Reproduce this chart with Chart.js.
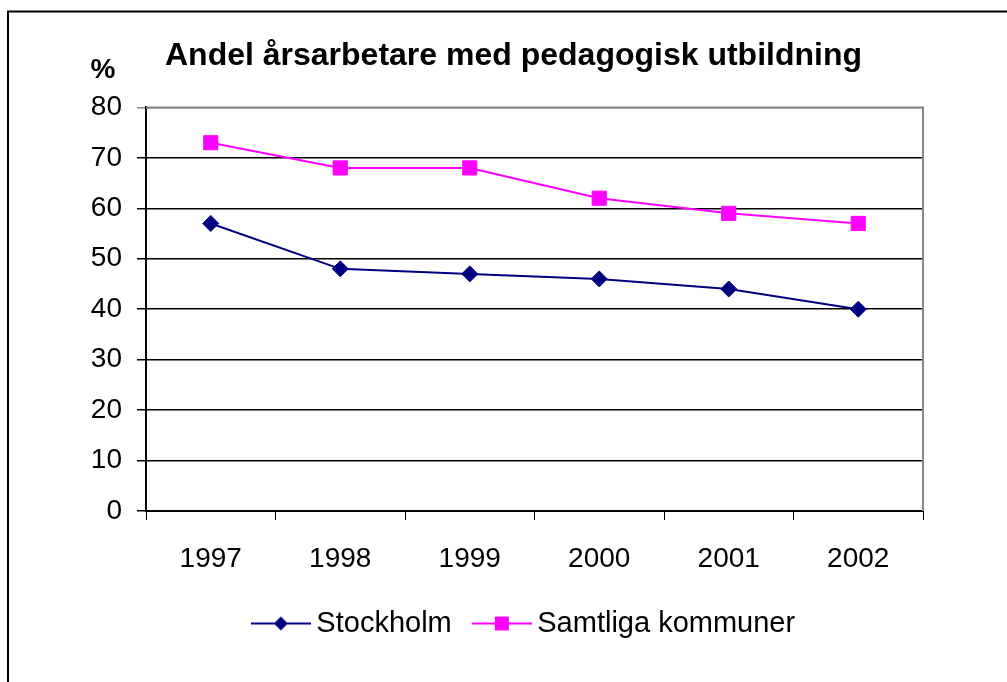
<!doctype html>
<html lang="sv">
<head>
<meta charset="utf-8">
<title>Andel årsarbetare med pedagogisk utbildning</title>
<style>
  body { margin: 0; background: #fff; }
  #wrap { width: 1007px; height: 682px; }
</style>
</head>
<body>
<div id="wrap"><canvas id="myChart" width="1007" height="682"></canvas></div>
<script src="https://cdn.jsdelivr.net/npm/chart.js@4"></script>
<script>
var years = ['1997', '1998', '1999', '2000', '2001', '2002'];
var stockholm = [57, 48, 47, 46, 44, 40];
var samtliga = [73, 68, 68, 62, 59, 57];
var yTicks = [0, 10, 20, 30, 40, 50, 60, 70, 80];

var FONT = '"Liberation Sans", Arial, sans-serif';
var NAVY = '#000080';
var PINK = '#FF00FF';

// legend swatch: line with marker in the middle
function swatch(color, shape) {
    var c = document.createElement('canvas');
    c.width = 60; c.height = 20;
    var g = c.getContext('2d');
    g.strokeStyle = color; g.lineWidth = 2;
    g.beginPath(); g.moveTo(0, 10); g.lineTo(60, 10); g.stroke();
    g.fillStyle = color;
    g.beginPath();
    if (shape === 'diamond') {
        g.moveTo(30, 3); g.lineTo(37, 10); g.lineTo(30, 17); g.lineTo(23, 10);
    } else {
        g.rect(23, 3, 14, 14);
    }
    g.closePath(); g.fill();
    return c;
}
var legendStyles = [swatch(NAVY, 'diamond'), swatch(PINK, 'square')];

var frame = {
    id: 'frame',
    afterLayout: function(chart) {
        // nudge title and legend sideways like the original sheet
        if (chart.legend) { chart.legend.left += 22; chart.legend.right += 22; }
        if (chart.titleBlock) { chart.titleBlock.left += 8; chart.titleBlock.right += 8; }
    },
    beforeDraw: function(chart) {
        var ctx = chart.ctx;
        ctx.save();
        ctx.fillStyle = '#fff';
        ctx.fillRect(0, 0, chart.width, chart.height);
        ctx.strokeStyle = '#000'; ctx.lineWidth = 2;
        ctx.beginPath(); ctx.moveTo(8, 1000); ctx.lineTo(8, 11.5); ctx.lineTo(1100, 11.5); ctx.stroke();
        ctx.fillStyle = '#000';
        ctx.font = 'bold 28px ' + FONT;
        ctx.textAlign = 'center'; ctx.textBaseline = 'middle';
        ctx.fillText('%', 103, 70);
        ctx.restore();
    },
    beforeDatasetsDraw: function(chart) {
        var a = chart.chartArea, ctx = chart.ctx;
        ctx.save();
        ctx.strokeStyle = '#888'; ctx.lineWidth = 2;
        ctx.beginPath(); ctx.moveTo(a.left, a.top); ctx.lineTo(a.right, a.top); ctx.lineTo(a.right, a.bottom); ctx.stroke();
        ctx.restore();
    }
};

var ctx = document.getElementById('myChart').getContext('2d');
var chart = new Chart(ctx, {
    type: 'line',
    data: {
        labels: years,
        datasets: [{
            label: 'Stockholm',
            data: stockholm,
            borderColor: NAVY,
            backgroundColor: NAVY,
            borderWidth: 2,
            pointStyle: 'rectRot',
            pointRadius: 8,
            pointBorderWidth: 1,
            tension: 0
        }, {
            label: 'Samtliga kommuner',
            data: samtliga,
            borderColor: PINK,
            backgroundColor: PINK,
            borderWidth: 2,
            pointStyle: 'rect',
            pointRadius: 10,
            pointBorderWidth: 1,
            tension: 0
        }]
    },
    options: {
        responsive: false,
        animation: false,
        layout: { padding: { left: 88, right: 84, top: 0, bottom: 34 } },
        plugins: {
            title: {
                display: true,
                text: 'Andel årsarbetare med pedagogisk utbildning',
                color: '#000',
                font: { family: FONT, size: 32, weight: 'bold' },
                padding: { top: 37, bottom: 32 }
            },
            legend: {
                position: 'bottom',
                labels: {
                    color: '#000',
                    font: { family: FONT, size: 29 },
                    usePointStyle: true,
                    pointStyleWidth: 42,
                    padding: 29,
                    generateLabels: function(c) {
                        var items = Chart.defaults.plugins.legend.labels.generateLabels(c);
                        items.forEach(function(it, i) { it.pointStyle = legendStyles[i]; });
                        return items;
                    }
                }
            },
            tooltip: { enabled: false }
        },
        scales: {
            x: {
                offset: true,
                grid: { offset: true, drawOnChartArea: false, drawTicks: true, tickLength: 9, color: '#000', lineWidth: 1 },
                border: { color: '#000', width: 2 },
                ticks: { color: '#000', font: { family: FONT, size: 28 }, padding: 22, maxRotation: 0 },
                afterFit: function(s) { s.height = 69; }
            },
            y: {
                min: yTicks[0],
                max: yTicks[yTicks.length - 1],
                grid: {
                    color: function(c) { return c.tick && c.tick.value === 80 ? '#888' : '#000'; },
                    lineWidth: 1.5,
                    tickLength: 9
                },
                border: { color: '#000', width: 2 },
                ticks: { stepSize: yTicks[1] - yTicks[0], autoSkip: false, color: '#000', font: { family: FONT, size: 28 }, padding: 15 },
                afterFit: function(s) { s.width = 58; }
            }
        }
    },
    plugins: [frame]
});
</script>
</body>
</html>
